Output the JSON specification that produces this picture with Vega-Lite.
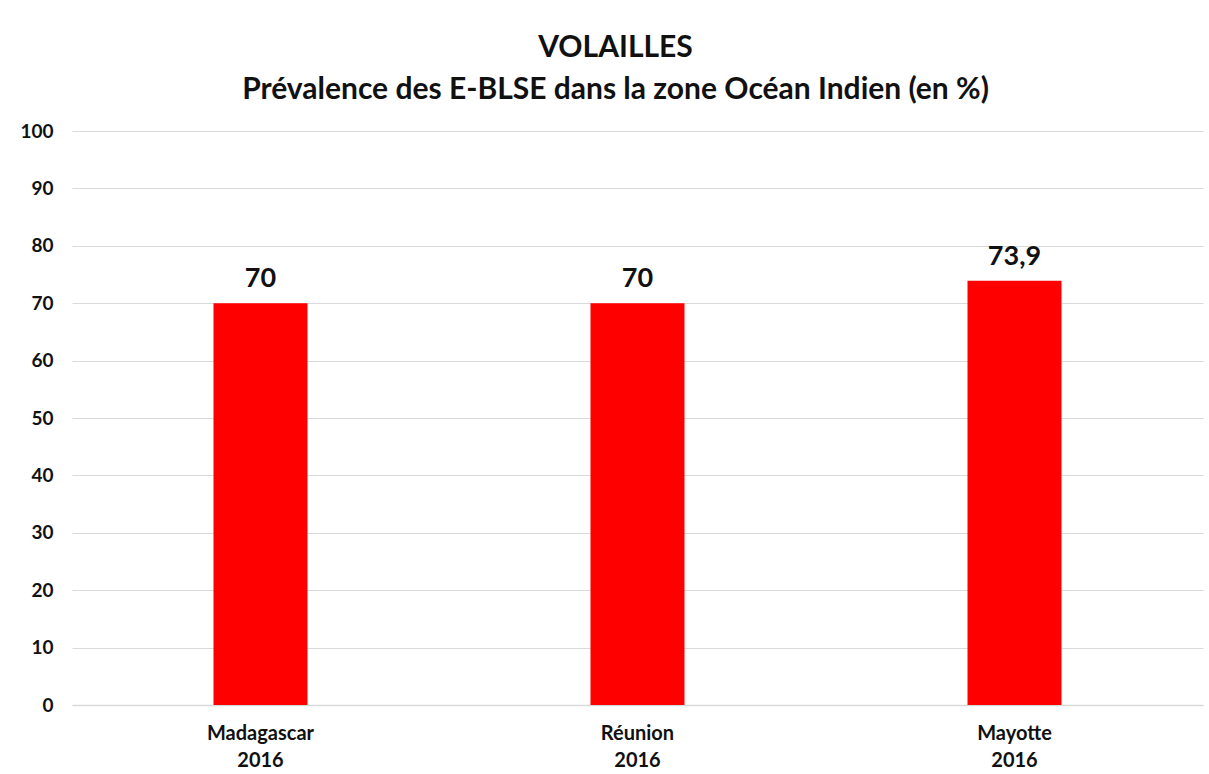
{
  "$schema": "https://vega.github.io/schema/vega-lite/v6.json",
  "autosize": {"type": "none"},
  "width": 1131,
  "height": 574,
  "padding": {"left": 72, "top": 131, "right": 6, "bottom": 69},
  "background": "white",
  "config": {
    "font": "Lato",
    "view": {"stroke": null}
  },
  "title": {
    "text": ["VOLAILLES", "Prévalence des E-BLSE dans la zone Océan Indien (en %)"],
    "fontSize": 30,
    "fontWeight": "bold",
    "font": "Lato",
    "color": "#111111",
    "lineHeight": 42,
    "anchor": "middle",
    "dx": -22,
    "offset": 17
  },
  "data": {
    "values": [
      {"pays": "Madagascar 2016", "valeur": 70, "etiquette": "70"},
      {"pays": "Réunion 2016", "valeur": 70, "etiquette": "70"},
      {"pays": "Mayotte 2016", "valeur": 73.9, "etiquette": "73,9"}
    ]
  },
  "encoding": {
    "x": {
      "field": "pays",
      "type": "nominal",
      "sort": null,
      "scale": {"paddingInner": 0, "paddingOuter": 0},
      "axis": {
        "title": null,
        "labelAngle": 0,
        "labelExpr": "split(datum.label, ' ')",
        "labelFont": "Lato",
        "labelFontSize": 20,
        "labelFontWeight": "bold",
        "labelColor": "#111111",
        "labelLineHeight": 27,
        "labelPadding": 18,
        "ticks": false,
        "domainColor": "#d9d9d9",
        "domainWidth": 1.5
      }
    },
    "y": {
      "field": "valeur",
      "type": "quantitative",
      "scale": {"domain": [0, 100], "nice": false},
      "axis": {
        "title": null,
        "values": [0, 10, 20, 30, 40, 50, 60, 70, 80, 90, 100],
        "labelFont": "Lato",
        "labelFontSize": 19,
        "labelFontWeight": "bold",
        "labelColor": "#111111",
        "labelPadding": 19,
        "ticks": false,
        "domain": false,
        "gridColor": "#d9d9d9",
        "gridWidth": 1
      }
    }
  },
  "layer": [
    {
      "mark": {"type": "bar", "color": "#ff0000", "size": 94}
    },
    {
      "mark": {
        "type": "text",
        "font": "Lato",
        "fontSize": 27,
        "fontWeight": "bold",
        "color": "#111111",
        "baseline": "alphabetic",
        "dy": -16
      },
      "encoding": {"text": {"field": "etiquette"}}
    }
  ]
}
